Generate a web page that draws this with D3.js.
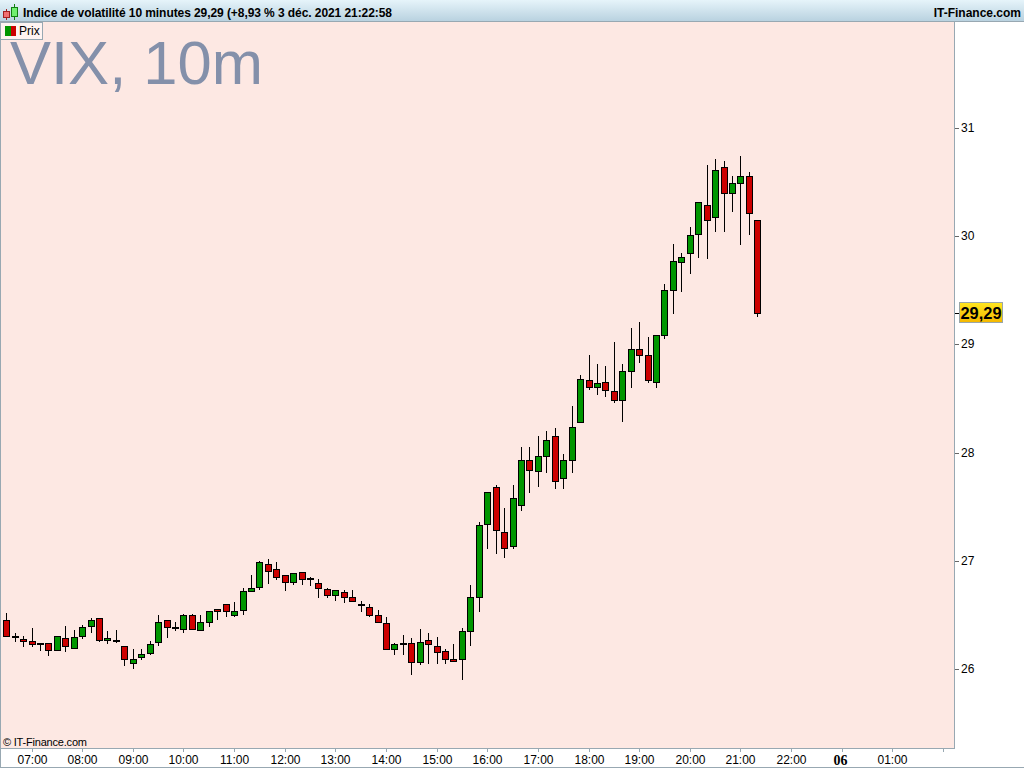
<!DOCTYPE html>
<html>
<head>
<meta charset="utf-8">
<script src="https://cdn.jsdelivr.net/npm/d3@7"></script>
<style>
  html, body { margin: 0; padding: 0; background: #fff; overflow: hidden; }
  svg { display: block; font-family: "Liberation Sans", Arial, sans-serif; }
  .tick text { font-size: 12px; fill: #000; }
</style>
</head>
<body>
<div id="chart"></div>
<script>
// ********** DATA **********
const opens = [26.45,26.31,26.28,26.26,26.24,26.24,26.18,26.29,26.20,26.31,
  26.40,26.47,26.27,26.27,26.21,26.06,26.11,26.15,26.25,26.45,
  26.39,26.37,26.50,26.36,26.44,26.56,26.60,26.50,26.55,26.72,
  26.76,26.97,26.93,26.87,26.81,26.90,26.84,26.80,26.74,26.69,
  26.71,26.67,26.60,26.57,26.50,26.43,26.19,26.24,26.24,26.07,
  26.27,26.21,26.17,26.09,26.09,26.35,26.67,27.34,27.68,27.27,
  27.14,27.52,27.93,27.83,27.97,28.15,27.77,27.93,28.28,28.67,
  28.61,28.65,28.57,28.49,28.75,28.96,28.90,28.65,29.09,29.50,
  29.76,29.84,30.02,30.29,30.18,30.64,30.40,30.49,30.56,30.15];
const highs = [26.52,26.33,26.31,26.38,26.24,26.24,26.31,26.40,26.36,26.41,
  26.47,26.47,26.35,26.36,26.21,26.19,26.19,26.26,26.50,26.45,
  26.44,26.51,26.51,26.50,26.54,26.56,26.60,26.62,26.75,26.87,
  27.00,27.02,26.99,26.87,26.89,26.90,26.85,26.83,26.75,26.73,
  26.73,26.73,26.63,26.60,26.55,26.48,26.24,26.32,26.29,26.37,
  26.33,26.30,26.19,26.23,26.38,26.78,27.36,27.64,27.70,27.49,
  27.70,28.05,28.05,28.15,28.20,28.23,27.99,28.43,28.72,28.90,
  28.82,28.80,29.02,28.82,29.15,29.21,29.07,29.09,29.56,29.93,
  29.84,30.08,30.32,30.66,30.71,30.69,30.56,30.74,30.59,30.15];
const lows = [26.31,26.26,26.21,26.21,26.18,26.13,26.18,26.17,26.20,26.29,
  26.34,26.26,26.24,26.25,26.04,26.01,26.09,26.14,26.22,26.30,
  26.36,26.34,26.37,26.36,26.40,26.46,26.49,26.49,26.51,26.72,
  26.74,26.80,26.83,26.73,26.79,26.79,26.78,26.67,26.67,26.64,
  26.62,26.63,26.54,26.49,26.44,26.19,26.14,26.14,25.96,26.05,
  26.06,26.06,26.06,26.08,25.91,26.22,26.54,27.12,27.07,27.04,
  27.12,27.47,27.64,27.69,27.82,27.67,27.67,27.82,28.28,28.59,
  28.54,28.52,28.47,28.29,28.61,28.84,28.65,28.61,29.06,29.29,
  29.49,29.66,29.81,29.80,30.05,30.05,30.23,29.93,30.02,29.26];
const closes = [26.31,26.31,26.26,26.23,26.23,26.18,26.31,26.21,26.30,26.39,
  26.45,26.27,26.29,26.26,26.09,26.09,26.14,26.23,26.44,26.39,
  26.38,26.50,26.37,26.44,26.54,26.54,26.54,26.54,26.72,26.75,
  26.99,26.91,26.85,26.81,26.89,26.83,26.83,26.75,26.69,26.73,
  26.67,26.63,26.59,26.50,26.44,26.19,26.23,26.23,26.07,26.25,
  26.23,26.16,26.09,26.08,26.35,26.67,27.33,27.64,27.29,27.12,
  27.58,27.93,27.84,27.97,28.12,27.74,27.93,28.24,28.68,28.61,
  28.64,28.58,28.49,28.75,28.96,28.90,28.67,29.09,29.50,29.77,
  29.81,30.01,30.32,30.15,30.61,30.40,30.49,30.56,30.21,29.29];

const timeLabels = ['07:00','08:00','09:00','10:00','11:00','12:00','13:00','14:00',
  '15:00','16:00','17:00','18:00','19:00','20:00','21:00','22:00','06','01:00',''];
const priceTicks = [26, 27, 28, 29, 30, 31];
const lastPrice = 29.29;

// Set up size
const width = 1024;
const height = 768;
const plotLeft = 1;
const plotRight = 955;
const plotTop = 22;
const plotBottom = 748;
const BORDER = '#98a8b2';
const UP = '#009600';
const DOWN = '#cc0000';

const svg = d3.select('#chart').append('svg')
  .attr('width', width)
  .attr('height', height);

const defs = svg.append('defs');
const headGrad = defs.append('linearGradient').attr('id', 'head-grad')
  .attr('x1', 0).attr('x2', 0).attr('y1', 0).attr('y2', 1);
headGrad.append('stop').attr('offset', 0).attr('stop-color', '#e6f4fa');
headGrad.append('stop').attr('offset', 1).attr('stop-color', '#b9d2e0');
const priceGrad = defs.append('linearGradient').attr('id', 'price-grad')
  .attr('x1', 0).attr('x2', 0).attr('y1', 0).attr('y2', 1);
priceGrad.append('stop').attr('offset', 0).attr('stop-color', '#ffe620');
priceGrad.append('stop').attr('offset', 1).attr('stop-color', '#f5b800');

// ********** SCALES **********
// bar index -> pixel column, rounded so that the bodies stay crisp
const x = d3.scaleLinear()
  .domain([0, 89])
  .range([6.2, 757.3])
  .interpolate(d3.interpolateRound);

const y = d3.scaleLinear()
  .domain([26, 31])
  .range([669.2, 127.9])
  .interpolate(d3.interpolateRound);

// ********** PLOT BACKGROUND **********
svg.append('rect')
  .attr('x', plotLeft)
  .attr('y', plotTop)
  .attr('width', plotRight - plotLeft)
  .attr('height', plotBottom - plotTop)
  .attr('fill', '#fde8e3');

svg.append('text')
  .attr('x', 10)
  .attr('y', 84)
  .attr('font-size', 61.5)
  .attr('fill', '#8490aa')
  .text('VIX, 10m');

// ********** CANDLES **********
const candles = svg.append('g')
  .attr('shape-rendering', 'crispEdges')
  .selectAll('g')
  .data(d3.range(opens.length))
  .join('g');

candles.append('line')
  .attr('x1', i => x(i) + 0.5)
  .attr('x2', i => x(i) + 0.5)
  .attr('y1', i => y(highs[i]))
  .attr('y2', i => y(lows[i]) + 1)
  .attr('stroke', '#000');

candles.append('rect')
  .attr('x', i => x(i) - 2.5)
  .attr('width', 6)
  .attr('y', i => y(Math.max(opens[i], closes[i])) + 0.5)
  .attr('height', i => Math.max(1, Math.abs(y(opens[i]) - y(closes[i]))))
  .attr('fill', i => closes[i] >= opens[i] ? UP : DOWN)
  .attr('stroke', '#000');

// ********** AXES **********
const xAxis = d3.axisBottom(x)
  .tickValues(timeLabels.map((d, i) => 3 + i * 6))
  .tickFormat((d, i) => timeLabels[i] === '06' ? '' : timeLabels[i])
  .tickSize(4)
  .tickPadding(3);

const xAxisG = svg.append('g')
  .attr('transform', `translate(0, ${plotBottom})`)
  .attr('shape-rendering', 'crispEdges')
  .call(xAxis);
xAxisG.select('.domain').remove();
xAxisG.selectAll('.tick line').attr('stroke', BORDER);

// the day label is set apart from the hours
xAxisG.selectAll('.tick')
  .filter((d, i) => timeLabels[i] === '06')
  .select('text')
  .text('06')
  .attr('dx', -2)
  .style('font-family', '"Liberation Serif", serif')
  .style('font-weight', 'bold')
  .style('font-size', '14px');

const yAxis = d3.axisRight(y)
  .tickValues(priceTicks)
  .tickFormat(d3.format('d'))
  .tickSize(4)
  .tickPadding(2);

const yAxisG = svg.append('g')
  .attr('transform', `translate(${plotRight}, 0)`)
  .attr('shape-rendering', 'crispEdges')
  .call(yAxis);
yAxisG.select('.domain').remove();
yAxisG.selectAll('.tick line').attr('stroke', '#666');

// axis and frame lines
const frame = svg.append('g')
  .attr('shape-rendering', 'crispEdges')
  .attr('stroke', BORDER);
frame.append('line').attr('x1', plotRight - 0.5).attr('x2', plotRight - 0.5).attr('y1', plotTop).attr('y2', plotBottom + 1);
frame.append('line').attr('x1', 0).attr('x2', plotRight).attr('y1', plotBottom + 0.5).attr('y2', plotBottom + 0.5);
frame.append('line').attr('x1', 0.5).attr('x2', 0.5).attr('y1', 0).attr('y2', height);
frame.append('line').attr('x1', 0).attr('x2', width).attr('y1', height - 0.5).attr('y2', height - 0.5);

// ********** LAST PRICE LABEL **********
svg.append('line')
  .attr('x1', plotRight)
  .attr('x2', 959)
  .attr('y1', y(lastPrice) + 0.5)
  .attr('y2', y(lastPrice) + 0.5)
  .attr('stroke', '#000')
  .attr('shape-rendering', 'crispEdges');
svg.append('rect')
  .attr('x', 959.5)
  .attr('y', 302.5)
  .attr('width', 43)
  .attr('height', 20)
  .attr('fill', 'url(#price-grad)')
  .attr('stroke', '#9aa6a8');
svg.append('text')
  .attr('x', 981)
  .attr('y', 318.5)
  .attr('text-anchor', 'middle')
  .attr('font-size', 16.4)
  .attr('font-weight', 'bold')
  .text(d3.format('.2f')(lastPrice).replace('.', ','));

// ********** HEADER **********
svg.append('rect')
  .attr('x', 0)
  .attr('y', 0)
  .attr('width', width)
  .attr('height', 21)
  .attr('fill', 'url(#head-grad)');
svg.append('line')
  .attr('x1', 0).attr('x2', width)
  .attr('y1', 21.5).attr('y2', 21.5)
  .attr('stroke', BORDER);

// small candle icon
const icon = svg.append('g').attr('shape-rendering', 'crispEdges');
icon.append('line').attr('x1', 6.5).attr('x2', 6.5).attr('y1', 9).attr('y2', 20).attr('stroke', '#a02020');
icon.append('rect').attr('x', 3.5).attr('y', 11.5).attr('width', 6).attr('height', 6).attr('fill', '#f07070').attr('stroke', '#a02020');
icon.append('line').attr('x1', 14.5).attr('x2', 14.5).attr('y1', 4).attr('y2', 20).attr('stroke', '#108010');
icon.append('rect').attr('x', 11.5).attr('y', 7.5).attr('width', 6).attr('height', 9).attr('fill', '#70f070').attr('stroke', '#108010');

svg.append('text')
  .attr('x', 23)
  .attr('y', 17)
  .attr('font-size', 12)
  .attr('font-weight', 'bold')
  .attr('textLength', 369)
  .attr('lengthAdjust', 'spacing')
  .text('Indice de volatilité 10 minutes 29,29 (+8,93 % 3 déc. 2021 21:22:58');

svg.append('text')
  .attr('x', 1021)
  .attr('y', 17)
  .attr('text-anchor', 'end')
  .attr('font-size', 12)
  .attr('font-weight', 'bold')
  .text('IT-Finance.com');

// ********** LEGEND **********
svg.append('rect')
  .attr('x', 0.5)
  .attr('y', 22.5)
  .attr('width', 42)
  .attr('height', 17)
  .attr('fill', '#fff4f2')
  .attr('stroke', BORDER);
svg.append('rect').attr('x', 5).attr('y', 26).attr('width', 6).attr('height', 10).attr('fill', UP);
svg.append('rect').attr('x', 11).attr('y', 26).attr('width', 5).attr('height', 10).attr('fill', DOWN);
svg.append('text')
  .attr('x', 19)
  .attr('y', 35)
  .attr('font-size', 12)
  .text('Prix');

// ********** COPYRIGHT **********
svg.append('text')
  .attr('x', 3)
  .attr('y', 746)
  .attr('font-size', 11)
  .attr('textLength', 84)
  .attr('lengthAdjust', 'spacing')
  .text('© IT-Finance.com');
</script>
</body>
</html>
